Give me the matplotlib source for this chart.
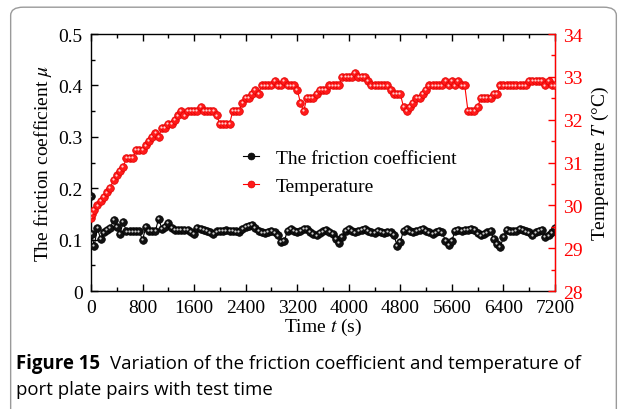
import numpy as np
import matplotlib
matplotlib.use("Agg")
import matplotlib.pyplot as plt
from matplotlib.patches import FancyBboxPatch
from matplotlib.transforms import offset_copy

plt.rcParams["font.family"] = ["Liberation Serif", "DejaVu Serif"]
plt.rcParams["mathtext.fontset"] = "stix"

# sampling times (s)
time_s = [0, 10] + list(range(50, 7201, 50))

# friction coefficient mu
friction = [0.184, 0.111,
            0.088, 0.122, 0.101, 0.114, 0.119, 0.122, 0.139, 0.124, 0.111, 0.134,
            0.116, 0.116, 0.116, 0.116, 0.116, 0.099, 0.124, 0.117, 0.117, 0.117,
            0.141, 0.121, 0.124, 0.132, 0.122, 0.119, 0.119, 0.119, 0.119, 0.119,
            0.115, 0.111, 0.122, 0.121, 0.119, 0.117, 0.114, 0.111, 0.116, 0.117,
            0.117, 0.118, 0.117, 0.117, 0.116, 0.115, 0.121, 0.125, 0.127, 0.128,
            0.123, 0.117, 0.114, 0.113, 0.115, 0.117, 0.114, 0.108, 0.095, 0.098,
            0.117, 0.121, 0.117, 0.115, 0.117, 0.121, 0.120, 0.115, 0.111, 0.108,
            0.113, 0.116, 0.119, 0.115, 0.111, 0.102, 0.093, 0.105, 0.117, 0.121,
            0.117, 0.114, 0.117, 0.119, 0.121, 0.117, 0.114, 0.113, 0.117, 0.115,
            0.113, 0.115, 0.114, 0.109, 0.088, 0.096, 0.117, 0.121, 0.116, 0.114,
            0.117, 0.119, 0.121, 0.117, 0.114, 0.111, 0.114, 0.117, 0.114, 0.098,
            0.089, 0.098, 0.117, 0.119, 0.117, 0.119, 0.119, 0.121, 0.119, 0.112,
            0.108, 0.111, 0.114, 0.117, 0.101, 0.091, 0.085, 0.105, 0.119, 0.116,
            0.116, 0.117, 0.121, 0.119, 0.116, 0.114, 0.108, 0.114, 0.117, 0.119,
            0.105, 0.108, 0.114, 0.122]

# temperature T (deg C)
temperature = [29.7, 29.8,
               29.9, 30.0, 30.1, 30.2, 30.3, 30.4, 30.6, 30.7, 30.8, 30.9,
               31.1, 31.1, 31.1, 31.3, 31.3, 31.3, 31.4, 31.5, 31.6, 31.7,
               31.6, 31.8, 31.8, 31.9, 31.9, 32.0, 32.1, 32.2, 32.1, 32.2,
               32.2, 32.2, 32.2, 32.3, 32.2, 32.2, 32.2, 32.2, 32.1, 31.9,
               31.9, 31.9, 31.9, 32.2, 32.2, 32.2, 32.4, 32.5, 32.5, 32.6,
               32.7, 32.6, 32.8, 32.8, 32.8, 32.8, 32.9, 32.8, 32.8, 32.9,
               32.8, 32.8, 32.8, 32.7, 32.4, 32.2, 32.5, 32.5, 32.5, 32.6,
               32.7, 32.7, 32.7, 32.8, 32.8, 32.8, 32.8, 33.0, 33.0, 33.0,
               33.0, 33.1, 33.0, 33.0, 33.0, 32.9, 32.8, 32.8, 32.8, 32.8,
               32.8, 32.8, 32.7, 32.6, 32.6, 32.6, 32.3, 32.2, 32.3, 32.4,
               32.5, 32.5, 32.6, 32.7, 32.8, 32.8, 32.8, 32.8, 32.8, 32.9,
               32.8, 32.9, 32.8, 32.9, 32.8, 32.8, 32.2, 32.2, 32.2, 32.3,
               32.5, 32.5, 32.5, 32.5, 32.6, 32.6, 32.8, 32.8, 32.8, 32.8,
               32.8, 32.8, 32.8, 32.8, 32.8, 32.9, 32.9, 32.9, 32.9, 32.9,
               32.8, 32.9, 32.8, 32.8]

x_ticks = [0, 800, 1600, 2400, 3200, 4000, 4800, 5600, 6400, 7200]
mu_ticks = [0, 0.1, 0.2, 0.3, 0.4, 0.5]
mu_labels = ["0", "0.1", "0.2", "0.3", "0.4", "0.5"]
t_ticks = [28, 29, 30, 31, 32, 33, 34]

fig = plt.figure(figsize=(6.27, 4.10), dpi=100)

# card outline
card = FancyBboxPatch((0.017, -0.02), 0.966, 1.0, boxstyle="round,pad=0,rounding_size=0.02",
                      transform=fig.transFigure, fill=False, edgecolor="#9a9a9a", linewidth=1.0)
fig.patches.append(card)

ax = fig.add_axes([0.1451, 0.2878, 0.7400, 0.6268])
ax2 = ax.twinx()

ms = 5.5
ax.plot(time_s, friction, "-", color="black", lw=0.8, marker="o", ms=ms,
        markerfacecolor="#111111", markeredgecolor="black", mew=0.5,
        label="The friction coefficient", zorder=3)
hl = offset_copy(ax.transData, fig=fig, x=-0.6, y=0.6, units="points")
ax.plot(time_s, friction, "o", color="#cfcfcf", ms=1.6, mew=0, transform=hl, zorder=4)

ax2.plot(time_s, temperature, "-", color="red", lw=0.8, marker="o", ms=ms,
         markerfacecolor="#ff1a1a", markeredgecolor="#e00000", mew=0.5,
         label="Temperature", zorder=3)
hl2 = offset_copy(ax2.transData, fig=fig, x=-0.6, y=0.6, units="points")
ax2.plot(time_s, temperature, "o", color="#ffd0d0", ms=1.6, mew=0, transform=hl2, zorder=4)

ax.set_xlim(0, 7200)
ax.set_ylim(0, 0.5)
ax2.set_ylim(28, 34)

ax.set_xticks(x_ticks)
ax.set_xticks(np.arange(400, 7200, 800), minor=True)
ax.set_yticks(mu_ticks)
ax.set_yticklabels(mu_labels)
ax.set_yticks(np.arange(0.05, 0.5, 0.1), minor=True)
ax2.set_yticks(t_ticks)
ax2.set_yticks(np.arange(28.5, 34, 1), minor=True)

fs = 14
ax.tick_params(axis="both", which="both", direction="in", top=True, labelsize=fs, color="black")
ax.tick_params(axis="x", which="major", pad=6)
ax.tick_params(axis="y", which="major", pad=6)
ax.tick_params(which="major", length=5, width=1)
ax.tick_params(which="minor", length=3, width=1)
ax2.tick_params(axis="y", which="both", direction="in", colors="red", labelsize=fs, pad=6)
ax2.tick_params(which="major", length=5, width=1)
ax2.tick_params(which="minor", length=3, width=1)

for s in ["left", "bottom", "top"]:
    ax.spines[s].set_linewidth(1.0)
ax2.spines["right"].set_color("red")
ax2.spines["right"].set_linewidth(1.0)
ax2.spines["left"].set_visible(False)
ax2.spines["top"].set_visible(False)
ax2.spines["bottom"].set_visible(False)

ax.set_xlabel("Time $t$ (s)", fontsize=fs, labelpad=0)
ax.set_ylabel(r"The friction coefficient $\mu$", fontsize=fs, labelpad=3)
ax2.set_ylabel("Temperature $T$ (°C)", fontsize=fs, labelpad=5, color="black")

h1, l1 = ax.get_legend_handles_labels()
h2, l2 = ax2.get_legend_handles_labels()
leg = ax.legend(h1 + h2, l1 + l2, loc="upper left", bbox_to_anchor=(0.29, 0.62),
                frameon=False, fontsize=fs, handlelength=0.8, handletextpad=0.9,
                labelspacing=0.55, markerscale=0.9)

cap_font = ["Open Sans", "DejaVu Sans"]
cap_fs = 13.4
fig.text(0.026, 0.100, "Figure 15", fontsize=cap_fs, fontweight="bold", family=cap_font)
fig.text(0.176, 0.100, "Variation of the friction coefficient and temperature of",
         fontsize=cap_fs, family=cap_font)
fig.text(0.026, 0.037, "port plate pairs with test time", fontsize=cap_fs, family=cap_font)

fig.savefig("out.png", dpi=100)
